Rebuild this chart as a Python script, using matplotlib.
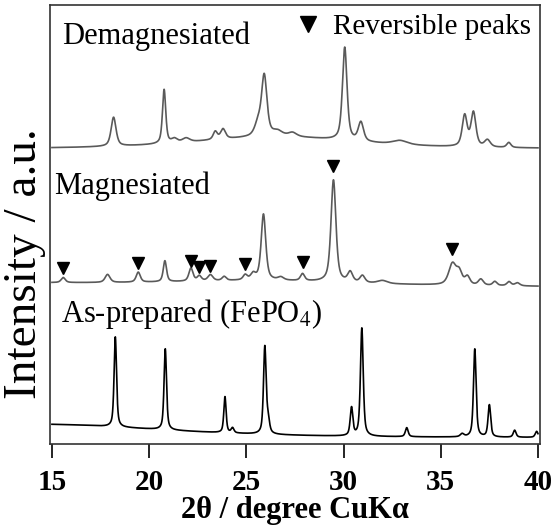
import numpy as np
import matplotlib
matplotlib.use('Agg')
import matplotlib.pyplot as plt
from matplotlib.lines import Line2D

plt.rcParams['font.family'] = ['Liberation Serif', 'DejaVu Serif']
plt.rcParams['mathtext.fontset'] = 'stix'

# 2theta grid
two_theta = np.linspace(15, 40, 5001)

# Demagnesiated: peak position (deg), height, fwhm (last entry = broad background hump)
demag_pos = [18.17, 20.77, 21.3, 21.9, 23.4, 23.8, 25.6, 25.92, 26.6, 27.37,
             30.06, 30.89, 32.9, 36.23, 36.68, 37.4, 38.5, 26.5]
demag_height = [29, 54, 4, 4, 8, 10, 12, 60, 5, 4,
                93, 19, 4, 31, 34, 7, 5, 12]
demag_fwhm = [0.3, 0.2, 0.35, 0.45, 0.25, 0.3, 0.4, 0.33, 0.6, 0.5,
              0.28, 0.32, 0.9, 0.3, 0.3, 0.35, 0.25, 10]
demag_base = [295, 295]

# Magnesiated
mag_pos = [15.58, 17.86, 19.44, 20.81, 22.15, 22.58, 23.15, 23.86, 24.94, 25.35,
           25.88, 26.77, 27.89, 29.48, 30.34, 30.97, 32.0, 35.6, 35.95, 36.37,
           37.06, 37.78, 38.51, 38.94, 26.0]
mag_height = [5, 8, 10, 21, 13, 5, 6, 4, 5, 6,
              66, 3, 7, 102, 10, 7, 3, 21, 12, 8,
              6, 4, 4, 3, 4]
mag_fwhm = [0.25, 0.3, 0.25, 0.2, 0.25, 0.25, 0.3, 0.25, 0.25, 0.3,
            0.28, 0.35, 0.25, 0.3, 0.3, 0.3, 0.6, 0.45, 0.35, 0.3,
            0.3, 0.25, 0.25, 0.3, 10]
mag_base = [161, 157.5]

# reversible peaks (markers)
rev_pos = [15.58, 19.44, 22.15, 22.58, 23.15, 24.94, 27.89, 29.48, 35.6]
rev_y = [175.5, 181.3, 183, 177, 178, 180, 182, 278, 194.5]

# As-prepared FePO4
prep_pos = [18.26, 20.83, 23.9, 24.29, 25.95, 26.12, 30.41, 30.94, 33.25, 36.1,
            36.75, 37.5, 38.8, 39.93, 14.0]
prep_height = [90, 81, 36, 5, 87, 12, 28, 108, 9, 3,
               88, 32, 7, 6, 14]
prep_fwhm = [0.15, 0.15, 0.14, 0.17, 0.16, 0.17, 0.16, 0.17, 0.17, 0.22,
             0.16, 0.16, 0.17, 0.17, 16]
prep_base = [6, 6]


def pattern(pos, height, fwhm, base, eta=0.6):
    y = base[0] + (base[1] - base[0]) * (two_theta - 15) / 25
    for p, h, w in zip(pos, height, fwhm):
        lor = 1 / (1 + ((two_theta - p) / (w / 2)) ** 2)
        gau = np.exp(-4 * np.log(2) * ((two_theta - p) / w) ** 2)
        y = y + h * (eta * lor + (1 - eta) * gau)
    return y


fig = plt.figure(figsize=(5.58, 5.30), dpi=100)
ax = fig.add_axes([0.0896, 0.162, 0.878, 0.829])

ax.plot(two_theta, pattern(demag_pos, demag_height, demag_fwhm, demag_base),
        color='#5a5a5a', lw=1.2)
ax.plot(two_theta, pattern(mag_pos, mag_height, mag_fwhm, mag_base),
        color='#5a5a5a', lw=1.2)
ax.plot(two_theta, pattern(prep_pos, prep_height, prep_fwhm, prep_base),
        color='black', lw=1.2)
ax.plot(rev_pos, rev_y, 'v', color='black', ms=8, ls='none')

ax.text(15.5, 400, 'Demagnesiated', fontsize=22, va='baseline')
ax.text(15.1, 250, 'Magnesiated', fontsize=22, va='baseline')
ax.text(15.45, 122, r'As-prepared (FePO$_4$)', fontsize=22, va='baseline')

handle = Line2D([], [], marker='v', ls='none', color='black', ms=12)
ax.legend([handle], ['Reversible peaks'], loc='upper right', frameon=False,
          fontsize=21, handletextpad=0.35, borderaxespad=0.1,
          borderpad=0.2, handlelength=1.0)

ax.set_xlim(14.9, 40.1)
ax.set_ylim(0, 439)
ax.set_xticks([15, 20, 25, 30, 35, 40])
ax.set_yticks([])
ax.tick_params(axis='x', direction='out', length=10, width=1.2, pad=8,
               labelsize=21)
for lbl in ax.get_xticklabels():
    lbl.set_fontweight('bold')
for sp in ax.spines.values():
    sp.set_linewidth(1.2)
    sp.set_color('#333333')

ax.set_xlabel('2θ / degree CuKα', fontsize=22, fontweight='bold', labelpad=0)
ax.set_ylabel('Intensity / a.u.', fontsize=34)
ax.yaxis.set_label_coords(-0.008, 0.41)

fig.savefig('out.png', dpi=100)
